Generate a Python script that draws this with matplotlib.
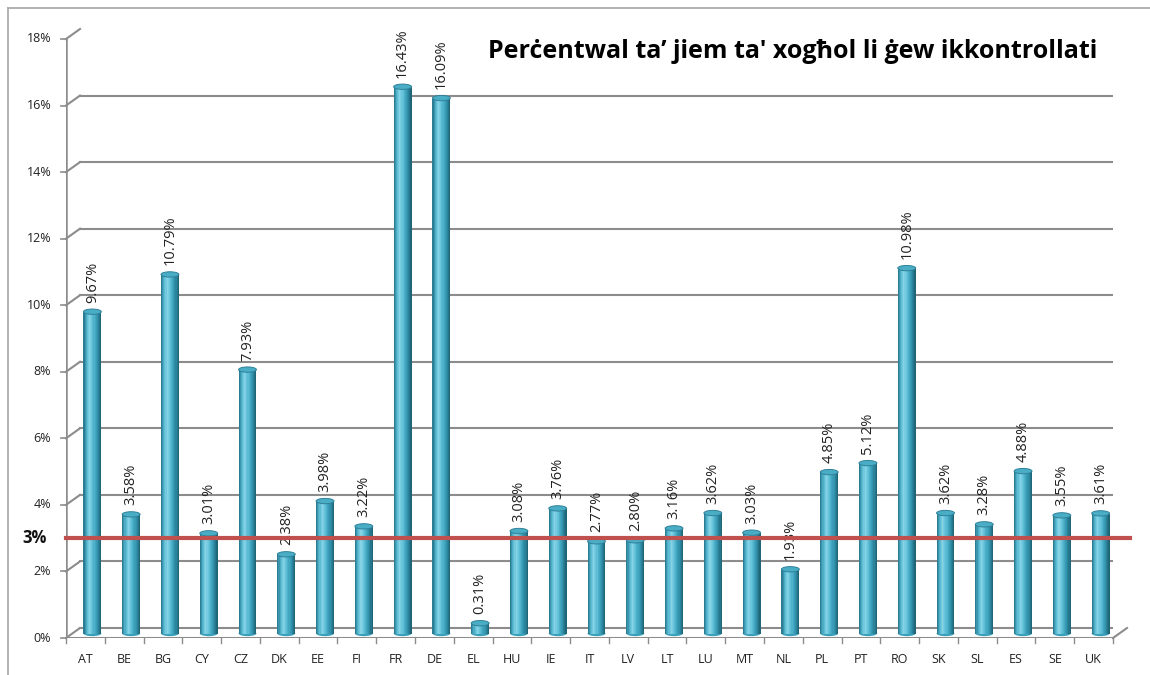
import numpy as np
import matplotlib
matplotlib.use('Agg')
import matplotlib.pyplot as plt
from matplotlib.transforms import ScaledTranslation
from matplotlib.patches import Ellipse
from matplotlib.colors import LinearSegmentedColormap
from matplotlib.lines import Line2D

# data
countries = ['AT', 'BE', 'BG', 'CY', 'CZ', 'DK', 'EE', 'FI', 'FR', 'DE', 'EL', 'HU', 'IE', 'IT',
             'LV', 'LT', 'LU', 'MT', 'NL', 'PL', 'PT', 'RO', 'SK', 'SL', 'ES', 'SE', 'UK']
values = [9.67, 3.58, 10.79, 3.01, 7.93, 2.38, 3.98, 3.22, 16.43, 16.09, 0.31, 3.08, 3.76, 2.77,
          2.80, 3.16, 3.62, 3.03, 1.93, 4.85, 5.12, 10.98, 3.62, 3.28, 4.88, 3.55, 3.61]
y_ticks = [0, 2, 4, 6, 8, 10, 12, 14, 16, 18]
target = 3
title = "Perċentwal ta’ jiem ta' xogħol li ġew ikkontrollati"

grey = '#8c8c8c'
red = '#c0504d'
font = ['Open Sans', 'DejaVu Sans']
plt.rcParams['font.family'] = font

fig = plt.figure(figsize=(11.5, 6.75), dpi=100)
W, H = 1150, 675
ax = fig.add_axes([66 / W, (H - 638) / H, (1113 - 66) / W, (638 - 39) / H])
ax.set_xlim(0, len(countries))
ax.set_ylim(0, 18)
ax.axis('off')

# 3d offsets (pixels): back wall and bar depth
back = ax.transData + ScaledTranslation(0.14, 0.10, fig.dpi_scale_trans)
mid = ax.transData + ScaledTranslation(0.07, 0.045, fig.dpi_scale_trans)

n = len(countries)
xs = np.arange(n) + 0.5

# back wall gridlines + diagonals to front axis
for t in y_ticks:
    ax.plot([0, n], [t, t], color=grey, lw=1.5, transform=back, zorder=1)
    x0, y0 = ax.transData.transform((0, t))
    x1, y1 = back.transform((0, t))
    fig.add_artist(Line2D([x0 / W, x1 / W], [y0 / H, y1 / H], color=grey, lw=1.5))
    # y tick mark
    fig.add_artist(Line2D([(x0 - 5) / W, x0 / W], [y0 / H, y0 / H], color=grey, lw=1.2))
    ax.text(-0.38, t, f'{t}%', ha='right', va='center', fontsize=9, color='#222222')

# floor
ax.plot([0, n], [0, 0], color=grey, lw=1.5, zorder=1)
x0, y0 = ax.transData.transform((n, 0))
x1, y1 = back.transform((n, 0))
fig.add_artist(Line2D([x0 / W, x1 / W], [y0 / H, y1 / H], color=grey, lw=1.5))
ax.plot([0, 0], [0, 18], color=grey, lw=1.8, zorder=2)

# x tick marks and labels
for i in range(n + 1):
    ax.plot([i, i], [0, -0.15], color=grey, lw=1.0, clip_on=False)
for x, c in zip(xs, countries):
    ax.text(x, -0.45, c, ha='center', va='top', fontsize=9, color='#222222')

# cylinder bars: vertical strips with a shaded profile
cyl = LinearSegmentedColormap.from_list('cyl', ['#2a7d92', '#55b9d2', '#86d3e6', '#62c1d9',
                                                '#44a7c1', '#2d8ca5', '#1f6679'])
bw = 0.46
ns = 16
vals = np.array(values)
for x, v in zip(xs, vals):
    ax.add_patch(Ellipse((x, 0), bw, 0.16, facecolor='#3aa0ba', edgecolor='none',
                         transform=mid, zorder=3))
for k in range(ns):
    off = -bw / 2 + bw * (k + 0.5) / ns
    ax.bar(xs + off, vals, width=bw / ns * 1.05, color=cyl(k / (ns - 1)),
           linewidth=0, transform=mid, zorder=4)
for x, v in zip(xs, vals):
    ax.add_patch(Ellipse((x, v), bw, 0.16, facecolor='#4aadc6', edgecolor='#2f8199',
                         lw=0.7, transform=mid, zorder=5))
    ax.text(x, v + 0.27, f'{v:.2f}%', rotation=90, ha='center', va='bottom',
            fontsize=10.5, color='#222222', transform=mid, zorder=6)

# 3% reference line
ax.plot([0, n + 0.45], [target, target], color=red, lw=3, clip_on=False, zorder=7)
ax.text(-0.5, target, f'{target}%', ha='right', va='center', fontsize=12,
        fontweight='bold', color='#111111')

fig.text(793 / W, 1 - 52 / H, title, ha='center', va='center', fontsize=18,
         fontweight='bold', color='black')

# chart frame
fig.add_artist(Line2D([8 / W, 1], [1 - 8 / H, 1 - 8 / H], color='#a6a6a6', lw=1.2))
fig.add_artist(Line2D([8 / W, 8 / W], [0, 1 - 8 / H], color='#a6a6a6', lw=1.2))

fig.savefig('out.png', dpi=100, facecolor='white')
